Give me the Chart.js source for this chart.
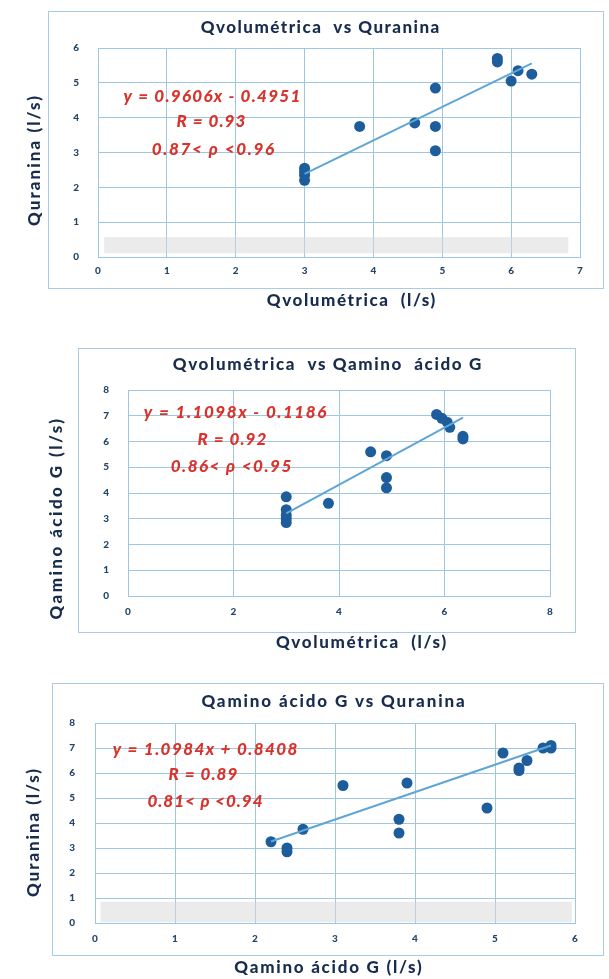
<!DOCTYPE html>
<html><head><meta charset="utf-8">
<script src="https://cdn.jsdelivr.net/npm/chart.js@4.4.1/dist/chart.umd.min.js"></script>
<style>
html,body{margin:0;padding:0;background:#fff;}
body{width:609px;height:979px;position:relative;overflow:hidden;}
canvas{position:absolute;left:0;}
</style></head>
<body>
<canvas id="c1" width="609" height="315" style="top:0px"></canvas>
<canvas id="c2" width="609" height="325" style="top:330px"></canvas>
<canvas id="c3" width="609" height="309" style="top:670px"></canvas>
<script>
// ---------- DATA ----------
// Chart 1: Qvolumétrica vs Quranina
const qvol1  = [3, 3, 3, 3, 3.8, 4.6, 4.9, 4.9, 4.9, 5.8, 5.8, 6.0, 6.1, 6.3];
const qura1  = [2.2, 2.35, 2.45, 2.55, 3.75, 3.85, 4.85, 3.75, 3.05, 5.6, 5.7, 5.05, 5.35, 5.25];
const fit1   = [0.9606, -0.4951];
const eq1    = ["y = 0.9606x - 0.4951", "R = 0.93", "0.87< ρ <0.96"];
const xTicks1 = [0, 7, 1];
const yTicks1 = [0, 6, 1];

// Chart 2: Qvolumétrica vs Qamino ácido G
const qvol2  = [3, 3, 3, 3, 3, 3.8, 4.6, 4.9, 4.9, 4.9, 5.85, 5.95, 6.05, 6.1, 6.35, 6.35];
const qag2   = [3.85, 3.35, 3.15, 3.0, 2.85, 3.6, 5.6, 5.45, 4.6, 4.2, 7.05, 6.9, 6.75, 6.55, 6.2, 6.1];
const fit2   = [1.1098, -0.1186];
const eq2    = ["y = 1.1098x - 0.1186", "R = 0.92", "0.86< ρ <0.95"];
const xTicks2 = [0, 8, 2];
const yTicks2 = [0, 8, 1];

// Chart 3: Qamino ácido G vs Quranina
const qag3   = [2.2, 2.4, 2.4, 2.6, 3.1, 3.8, 3.8, 3.9, 4.9, 5.1, 5.3, 5.3, 5.4, 5.6, 5.7, 5.7];
const qura3  = [3.25, 3.0, 2.85, 3.75, 5.5, 4.15, 3.6, 5.6, 4.6, 6.8, 6.1, 6.2, 6.5, 7.0, 7.0, 7.1];
const fit3   = [1.0984, 0.8408];
const eq3    = ["y = 1.0984x + 0.8408", "R = 0.89", "0.81< ρ <0.94"];
const xTicks3 = [0, 6, 1];
const yTicks3 = [0, 8, 1];

const titles = ["Qvolumétrica  vs Quranina", "Qvolumétrica  vs Qamino  ácido G", "Qamino ácido G vs Quranina"];
const xTitles = ["Qvolumétrica  (l/s)", "Qvolumétrica  (l/s)", "Qamino ácido G (l/s)"];
const yTitles = ["Quranina (l/s)", "Qamino ácido G (l/s)", "Quranina (l/s)"];
// faint grey strip (hidden legend area) in data units: [x0, x1, y0, y1]
const strip1 = [0.09, 6.83, 0.11, 0.57];
const strip3 = [0.07, 5.96, 0.03, 0.85];

// ---------- STYLE ----------
const C_POINT = '#1d5d9c';
const C_TREND = '#5fa6d6';
const C_GRID  = '#9fc6e5';
const C_BOX   = '#a9cbe6';
const C_TEXT  = '#182d4d';
const C_TICK  = '#24466a';
const C_EQ    = '#d9322a';

function drawFit(ctx, text, cx, cy, targetW, font, color, rot) {
  ctx.save();
  ctx.font = font; ctx.fillStyle = color;
  ctx.textAlign = 'center'; ctx.textBaseline = 'middle';
  ctx.letterSpacing = '0px';
  const w = ctx.measureText(text).width;
  let ls = targetW ? (targetW - w) / Math.max(1, text.length) : 0;
  ls = Math.max(-1.5, Math.min(3, ls));
  ctx.letterSpacing = ls.toFixed(2) + 'px';
  ctx.translate(cx + ls / 2, cy);
  if (rot) ctx.rotate(rot);
  ctx.fillText(text, 0, 0);
  ctx.restore();
}

const decoPlugin = {
  id: 'deco',
  beforeDraw(chart, args, o) {
    const ctx = chart.ctx;
    ctx.save();
    ctx.fillStyle = '#fff';
    ctx.fillRect(0, 0, chart.width, chart.height);
    ctx.strokeStyle = C_BOX; ctx.lineWidth = 1;
    const b = o.box;
    ctx.strokeRect(b[0] + 0.5, b[1] + 0.5, b[2] - b[0], b[3] - b[1]);
    ctx.restore();
  },
  beforeDatasetsDraw(chart, args, o) {
    if (!o.strip) return;
    const ctx = chart.ctx, xs = chart.scales.x, ys = chart.scales.y, s = o.strip;
    const x0 = xs.getPixelForValue(s[0]), x1 = xs.getPixelForValue(s[1]);
    const y0 = ys.getPixelForValue(s[3]), y1 = ys.getPixelForValue(s[2]);
    ctx.save();
    ctx.fillStyle = 'rgba(215,215,215,0.5)';
    ctx.fillRect(x0, y0, x1 - x0, y1 - y0);
    ctx.restore();
  },
  afterDraw(chart, args, o) {
    const ctx = chart.ctx;
    const tf = '900 17px Lato, "Liberation Sans", sans-serif';
    drawFit(ctx, o.title, o.titlePos[0], o.titlePos[1], o.titlePos[2], tf, C_TEXT);
    drawFit(ctx, o.xTitle, o.xPos[0], o.xPos[1], o.xPos[2], tf, C_TEXT);
    drawFit(ctx, o.yTitle, o.yPos[0], o.yPos[1], o.yPos[2], tf, C_TEXT, -Math.PI / 2);
    const ef = 'italic 900 17px Lato, "Liberation Sans", sans-serif';
    o.eq.forEach((t, i) => {
      const p = o.eqPos[i];
      drawFit(ctx, t, p[0], p[1], p[2], ef, C_EQ);
    });
  }
};

function makeChart(id, xs, ys, fit, xt, yt, lay, deco) {
  const pts = xs.map((x, i) => ({x: x, y: ys[i]}));
  const xmin = Math.min(...xs), xmax = Math.max(...xs);
  const trend = [{x: xmin, y: fit[0] * xmin + fit[1]}, {x: xmax, y: fit[0] * xmax + fit[1]}];
  const tickFont = {family: 'Lato, "Liberation Sans", sans-serif', size: 10, weight: '900'};
  return new Chart(document.getElementById(id), {
    type: 'scatter',
    data: {
      datasets: [
        {type: 'line', data: trend, borderColor: C_TREND, borderWidth: 2, pointRadius: 0, fill: false, order: 0},
        {type: 'scatter', data: pts, backgroundColor: C_POINT, borderColor: C_POINT, pointRadius: 5.5, pointBorderWidth: 0, order: 1}
      ]
    },
    options: {
      responsive: false, animation: false,
      layout: {autoPadding: false, padding: {left: 0, right: lay.right, top: lay.top, bottom: 0}},
      plugins: {legend: {display: false}, tooltip: {enabled: false}, title: {display: false}, deco: deco},
      scales: {
        x: {
          type: 'linear', min: xt[0], max: xt[1],
          ticks: {stepSize: xt[2], color: C_TICK, font: tickFont, padding: lay.xPad},
          grid: {color: C_GRID, drawTicks: false, lineWidth: 1},
          border: {color: C_GRID},
          afterFit: s => { s.height = lay.xH; }
        },
        y: {
          type: 'linear', min: yt[0], max: yt[1],
          ticks: {stepSize: yt[2], color: C_TICK, font: tickFont, padding: lay.yPad},
          grid: {color: C_GRID, drawTicks: false, lineWidth: 1},
          border: {color: C_GRID},
          afterFit: s => { s.width = lay.yW; }
        }
      }
    },
    plugins: [decoPlugin]
  });
}

makeChart('c1', qvol1, qura1, fit1, xTicks1, yTicks1,
  {right: 29, top: 48, xH: 58, yW: 98, xPad: 8, yPad: 19},
  {box: [48, 11, 603, 288], strip: strip1,
   title: titles[0], titlePos: [320, 28, 240],
   xTitle: xTitles[0], xPos: [351, 301, 170],
   yTitle: yTitles[0], yPos: [33, 160, 132],
   eq: eq1, eqPos: [[212, 97, 178], [211, 122, 70], [213, 150, 124]]});

makeChart('c2', qvol2, qag2, fit2, xTicks2, yTicks2,
  {right: 59, top: 60, xH: 59, yW: 128, xPad: 10, yPad: 19},
  {box: [78, 18, 575, 302], strip: null,
   title: titles[1], titlePos: [327, 35, 310],
   xTitle: xTitles[1], xPos: [361, 313, 172],
   yTitle: yTitles[1], yPos: [55, 188, 203],
   eq: eq2, eqPos: [[235, 83, 184], [232, 110, 70], [231, 137, 122]]});

makeChart('c3', qag3, qura3, fit3, xTicks3, yTicks3,
  {right: 34, top: 53, xH: 56, yW: 95, xPad: 10, yPad: 20},
  {box: [52, 13, 603, 285], strip: strip3,
   title: titles[2], titlePos: [333, 32, 265],
   xTitle: xTitles[2], xPos: [328, 298, 189],
   yTitle: yTitles[2], yPos: [33, 162, 130],
   eq: eq3, eqPos: [[205, 80, 186], [203, 105, 70], [205, 132, 116]]});
</script>
</body></html>
